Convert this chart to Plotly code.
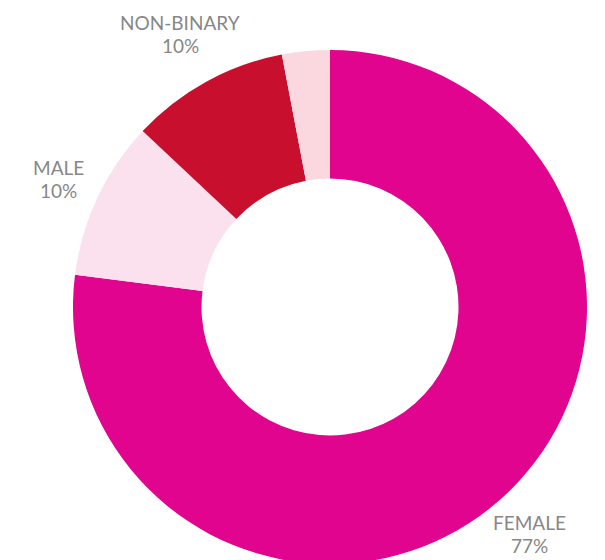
import math
import plotly.graph_objects as go

categories = ["FEMALE", "MALE", "NON-BINARY", "OTHER"]
values = [77, 10, 10, 3]
show_label = [True, True, True, False]
colors = ["#E1048F", "#FBE0EE", "#C8102E", "#FBD8DF"]

W, H = 605, 560
# pie geometry (figure pixels)
dom_x = [65, 579]
dom_y_top = [42, 556]
cx = (dom_x[0] + dom_x[1]) / 2
cy = (dom_y_top[0] + dom_y_top[1]) / 2
label_dist = [302, 300, 311, 300]
line_gap = 23

fig = go.Figure(go.Pie(
    labels=categories,
    values=values,
    textinfo="none",
    hole=0.5,
    sort=False,
    direction="clockwise",
    rotation=0,
    marker=dict(colors=colors, line=dict(width=0)),
    domain=dict(x=[dom_x[0] / W, dom_x[1] / W],
                y=[1 - dom_y_top[1] / H, 1 - dom_y_top[0] / H]),
    showlegend=False,
    hoverinfo="label+percent",
))

total = sum(values)
cum = 0
annotations = []
font = dict(family="Lato", size=19, color="#878787")
for cat, v, show, d in zip(categories, values, show_label, label_dist):
    mid = (cum + v / 2) / total * 2 * math.pi
    cum += v
    if not show:
        continue
    lx = cx + d * math.sin(mid)
    ly = cy - d * math.cos(mid)
    for txt, off in ((cat, -line_gap / 2), (f"{v}%", line_gap / 2)):
        annotations.append(dict(
            x=lx / W, y=1 - (ly + off) / H, xref="paper", yref="paper",
            text=txt, showarrow=False, xanchor="center", yanchor="middle",
            font=font,
        ))

fig.update_layout(
    width=W,
    height=H,
    margin=dict(l=0, r=0, t=0, b=0),
    paper_bgcolor="white",
    plot_bgcolor="white",
    annotations=annotations,
)

fig.write_html("out.html")
